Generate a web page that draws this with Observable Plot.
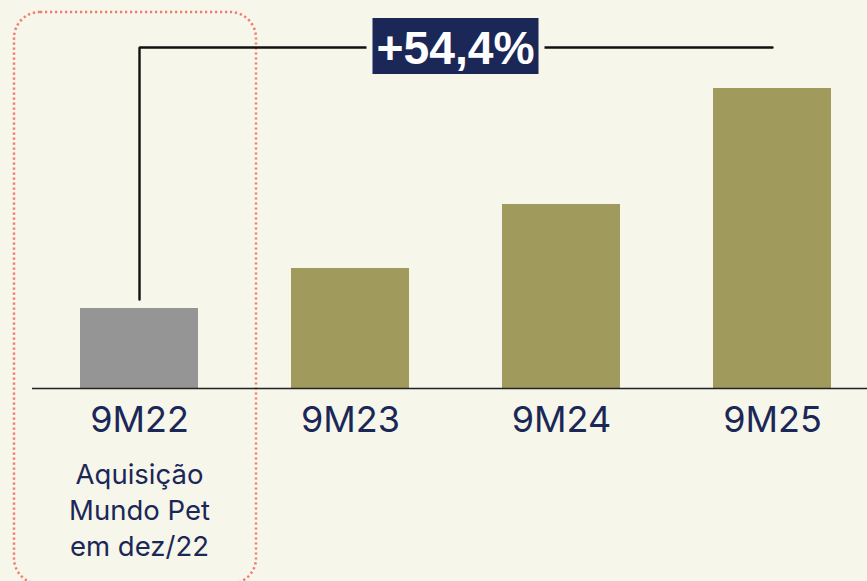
<!DOCTYPE html>
<html>
<head>
<meta charset="utf-8">
<script src="https://cdn.jsdelivr.net/npm/d3@7"></script>
<script src="https://cdn.jsdelivr.net/npm/@observablehq/plot@0.6"></script>
<style>
  html, body { margin: 0; padding: 0; background: #f6f6eb; }
  #chart { width: 867px; height: 581px; overflow: hidden; }
</style>
</head>
<body>
<div id="chart"></div>
<script>
// ---- data ----
const periods = ["9M22", "9M23", "9M24", "9M25"];
const values = [80, 120, 184, 300];
const acquisitionPeriod = "9M22";
const acquisitionNote = ["Aquisição", "Mundo Pet", "em dez/22"];
const growthLabel = "+54,4%";

const data = periods.map((p, i) => ({period: p, value: values[i]}));

const BG = "#f6f6eb", OLIVE = "#a09b5c", GRAY = "#959595", NAVY = "#1b2757", SALMON = "#f47a6c";
const bracketTop = 341;
const first = periods[0], last = periods[periods.length - 1];

const labelBox = (index, scales) => {
  const sx = scales.x, sy = scales.y;
  const bw = typeof sx.bandwidth === "function" ? sx.bandwidth() : 0;
  const cx = (sx(first) + sx(last)) / 2 + bw / 2;
  const cy = sy(bracketTop);
  const g = d3.create("svg:g");
  g.append("rect").attr("x", cx - 89).attr("y", cy - 6).attr("width", 178).attr("height", 12).attr("fill", BG);
  g.append("rect").attr("x", cx - 83).attr("y", cy - 29).attr("width", 166).attr("height", 56).attr("fill", NAVY);
  g.append("text").attr("x", cx).attr("y", cy + 17)
    .attr("text-anchor", "middle")
    .attr("fill", "#ffffff")
    .attr("font-family", "'Liberation Sans Narrow', 'Liberation Sans', Arial, sans-serif")
    .attr("font-weight", "bold")
    .attr("font-size", 47)
    .attr("textLength", 158)
    .attr("lengthAdjust", "spacingAndGlyphs")
    .text(growthLabel);
  return g.node();
};

const chart = Plot.plot({
  width: 867,
  height: 581,
  marginLeft: 32,
  marginRight: 0,
  marginTop: 88,
  marginBottom: 193,
  style: {background: BG, fontFamily: "Inter, 'Noto Sans', sans-serif", overflow: "visible"},
  x: {domain: periods, paddingInner: 0.4426, paddingOuter: 0.193, align: 0.574, axis: null},
  y: {domain: [0, 300], axis: null},
  marks: [
    // dotted rounded frame around the acquisition period
    Plot.barY([acquisitionPeriod], {
      x: d => d, y1: -196, y2: 376,
      insetLeft: -66, insetRight: -58,
      rx: 26, fill: "none", stroke: SALMON, strokeWidth: 2.5,
      strokeDasharray: "2.2 2.8"
    }),
    Plot.barY(data, {
      x: "period", y: "value",
      fill: d => d.period === acquisitionPeriod ? GRAY : OLIVE
    }),
    Plot.ruleY([0], {stroke: "#222", strokeWidth: 1.5}),
    Plot.axisX({
      tickSize: 0, tickPadding: 18, fontSize: 36, color: NAVY, label: null,
      fontFamily: "Inter, 'Noto Sans', sans-serif"
    }),
    Plot.text([acquisitionNote.join("\n")], {
      x: () => acquisitionPeriod, frameAnchor: "bottom", lineAnchor: "top",
      dy: 70, fontSize: 27.5, lineHeight: 1.31, fill: NAVY, text: d => d
    }),
    // growth bracket
    Plot.line([
      {p: first, v: values[0] + 9},
      {p: first, v: bracketTop},
      {p: last, v: bracketTop}
    ], {x: "p", y: "v", stroke: "#111", strokeWidth: 2.4, curve: "linear", strokeLinejoin: "miter"}),
    labelBox
  ]
});

document.getElementById("chart").appendChild(chart);
</script>
</body>
</html>
